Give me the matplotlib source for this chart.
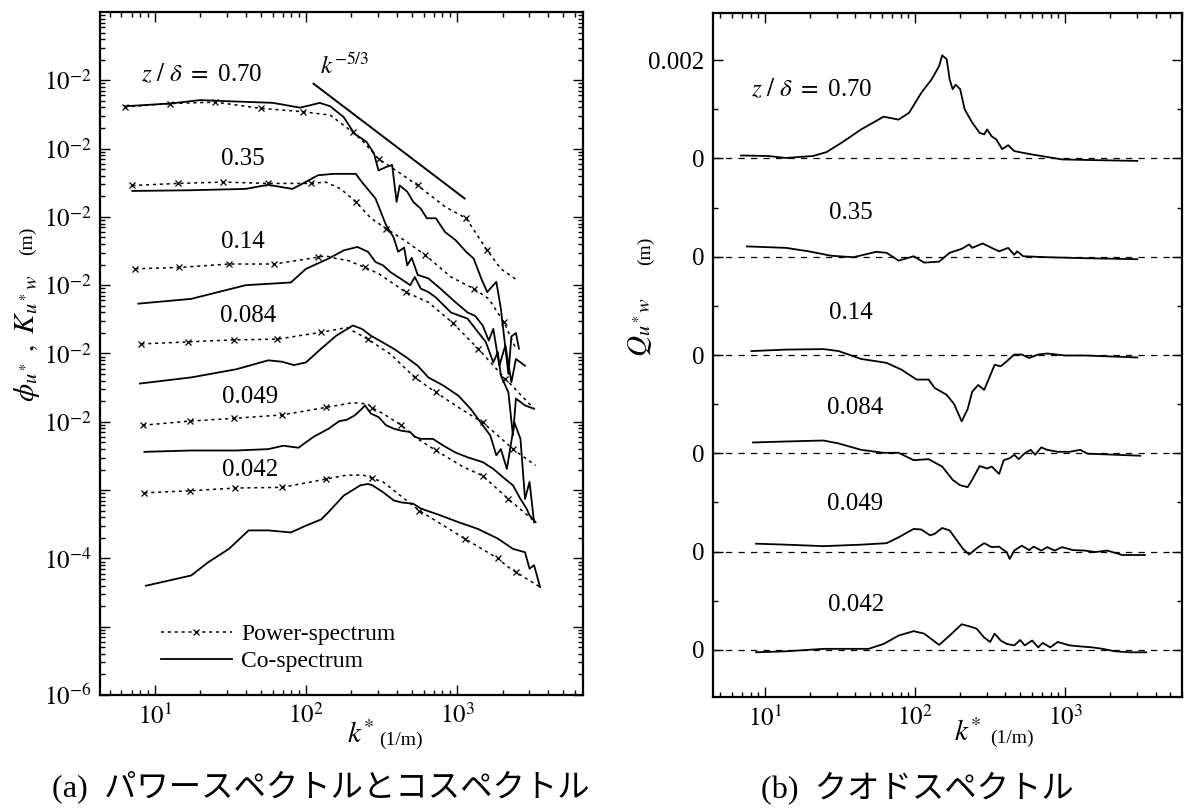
import numpy as np
import matplotlib
matplotlib.use("Agg")
import matplotlib.pyplot as plt
from matplotlib.lines import Line2D
from matplotlib.ticker import LogLocator, NullFormatter, MultipleLocator

plt.rcParams['font.family'] = ['Liberation Serif', 'Noto Sans CJK JP']
plt.rcParams['mathtext.fontset'] = 'stix'

heights = ['0.70', '0.35', '0.14', '0.084', '0.049', '0.042']

# ---- (a): log10 k* and log10 of the shifted spectrum ----
pw070_lk = [0.80, 1.10, 1.40, 1.70, 1.98, 2.16, 2.31, 2.38, 2.48, 2.61, 2.74, 2.92, 3.06, 3.20, 3.29, 3.40]
pw070_lv = [2.61, 2.66, 2.68, 2.59, 2.54, 2.49, 2.24, 2.10, 1.85, 1.66, 1.46, 1.15, 0.98, 0.51, 0.24, 0.07]
co070_lk = [0.80, 1.10, 1.30, 1.53, 1.78, 1.96, 2.02, 2.09, 2.16, 2.25, 2.32, 2.40, 2.45, 2.48, 2.53, 2.57,
            2.60, 2.62, 2.67, 2.71, 2.76, 2.80, 2.86, 2.92, 2.99, 3.06, 3.11, 3.16, 3.20, 3.24, 3.26, 3.29,
            3.34, 3.36, 3.39, 3.41]
co070_lv = [2.62, 2.66, 2.71, 2.69, 2.67, 2.60, 2.63, 2.67, 2.62, 2.46, 2.22, 2.10, 1.93, 1.68, 1.73, 1.76,
            1.22, 1.46, 1.37, 1.22, 1.12, 0.98, 0.98, 0.78, 0.66, 0.49, 0.39, 0.10, -0.10, 0.00, 0.05, -0.34,
            -1.30, -0.75, -0.70, -0.93]

pw035_lk = [0.85, 1.15, 1.45, 1.75, 2.03, 2.13, 2.23, 2.33, 2.43, 2.53, 2.65, 2.79, 2.96, 3.11, 3.21, 3.31, 3.39]
pw035_lv = [1.46, 1.49, 1.51, 1.49, 1.49, 1.51, 1.41, 1.22, 0.98, 0.83, 0.66, 0.44, 0.12, -0.05, -0.20, -0.54, -0.93]
co035_lk = [0.85, 1.23, 1.60, 1.75, 1.91, 1.98, 2.08, 2.18, 2.33, 2.37, 2.46, 2.53, 2.58, 2.61, 2.65, 2.67,
            2.70, 2.74, 2.81, 2.89, 2.99, 3.07, 3.12, 3.17, 3.21, 3.24, 3.28, 3.32, 3.36, 3.39, 3.42, 3.45]
co035_lv = [1.38, 1.39, 1.41, 1.47, 1.41, 1.49, 1.61, 1.63, 1.63, 1.51, 1.27, 0.88, 0.70, 0.49, 0.55, 0.29,
            0.40, 0.15, 0.10, -0.05, -0.25, -0.40, -0.45, -0.59, -0.81, -0.64, -1.18, -0.88, -1.42, -1.08, -1.13, -1.18]

pw014_lk = [0.87, 1.16, 1.49, 1.79, 2.08, 2.13, 2.20, 2.28, 2.39, 2.48, 2.66, 2.81, 2.97, 3.14, 3.32, 3.51]
pw014_lv = [0.24, 0.26, 0.31, 0.31, 0.41, 0.43, 0.39, 0.36, 0.26, 0.17, -0.10, -0.25, -0.55, -0.93, -1.37, -1.81]
co014_lk = [0.89, 1.24, 1.60, 1.75, 1.90, 2.00, 2.15, 2.25, 2.34, 2.41, 2.46, 2.51, 2.56, 2.63, 2.69, 2.72,
            2.76, 2.81, 2.86, 2.96, 3.07, 3.14, 3.19, 3.24, 3.27, 3.29, 3.34, 3.37, 3.39, 3.45, 3.51]
co014_lv = [-0.27, -0.20, 0.00, 0.02, 0.04, 0.24, 0.39, 0.51, 0.56, 0.49, 0.34, 0.29, 0.19, 0.09, 0.00, 0.12,
            -0.05, -0.10, -0.18, -0.40, -0.49, -0.69, -0.83, -1.13, -0.98, -1.32, -1.57, -2.20, -1.66, -1.76, -1.81]

pw0084_lk = [0.91, 1.22, 1.52, 1.81, 2.10, 2.27, 2.41, 2.56, 2.72, 2.86, 3.01, 3.17, 3.27, 3.37, 3.52]
pw0084_lv = [-0.86, -0.83, -0.80, -0.79, -0.69, -0.62, -0.79, -1.01, -1.35, -1.57, -1.79, -2.01, -2.20, -2.40, -2.64]
co0084_lk = [0.90, 1.24, 1.54, 1.75, 1.84, 1.92, 2.00, 2.10, 2.20, 2.31, 2.37, 2.43, 2.51, 2.58, 2.66, 2.74,
             2.81, 2.91, 3.01, 3.09, 3.17, 3.22, 3.26, 3.29, 3.33, 3.38, 3.42, 3.45, 3.48, 3.51]
co0084_lv = [-1.44, -1.35, -1.23, -1.10, -1.12, -1.17, -1.13, -0.93, -0.74, -0.59, -0.64, -0.74, -0.84, -0.93,
             -1.05, -1.18, -1.35, -1.47, -1.62, -1.81, -2.05, -2.20, -2.49, -2.40, -2.69, -2.01, -2.25, -3.13,
             -2.88, -3.47]

pw0049_lk = [0.92, 1.23, 1.52, 1.84, 2.13, 2.31, 2.41, 2.44, 2.51, 2.63, 2.74, 2.86, 3.04, 3.17, 3.34, 3.52]
pw0049_lv = [-2.05, -1.99, -1.95, -1.90, -1.79, -1.72, -1.74, -1.80, -1.88, -2.05, -2.25, -2.42, -2.66, -2.79, -3.13, -3.47]
co0049_lk = [0.93, 1.24, 1.54, 1.75, 1.85, 1.95, 2.05, 2.15, 2.22, 2.27, 2.32, 2.37, 2.39, 2.43, 2.48, 2.53,
             2.58, 2.63, 2.69, 2.72, 2.76, 2.84, 2.91, 2.99, 3.07, 3.17, 3.24, 3.32, 3.37, 3.42, 3.46, 3.48, 3.52]
co0049_lv = [-2.44, -2.42, -2.42, -2.40, -2.35, -2.38, -2.22, -2.10, -1.99, -1.97, -1.91, -1.81, -1.76, -1.88,
             -1.93, -2.05, -2.10, -2.13, -2.15, -2.22, -2.25, -2.25, -2.35, -2.45, -2.52, -2.59, -2.69, -2.84,
             -2.93, -3.13, -3.27, -3.37, -3.47]

pw0042_lk = [0.93, 1.23, 1.53, 1.84, 2.13, 2.27, 2.38, 2.44, 2.51, 2.75, 3.05, 3.27, 3.34, 3.39, 3.55]
pw0042_lv = [-3.04, -3.01, -2.97, -2.96, -2.84, -2.78, -2.78, -2.83, -2.88, -3.30, -3.71, -4.00, -4.13, -4.20, -4.42]
co0042_lk = [0.94, 1.24, 1.35, 1.49, 1.62, 1.75, 1.90, 2.00, 2.10, 2.15, 2.25, 2.36, 2.41, 2.44, 2.51, 2.58,
             2.63, 2.71, 2.76, 2.89, 3.01, 3.14, 3.27, 3.37, 3.45, 3.48, 3.51, 3.55]
co0042_lv = [-4.40, -4.25, -4.06, -3.86, -3.59, -3.59, -3.62, -3.52, -3.43, -3.32, -3.08, -2.93, -2.91, -2.93,
             -3.03, -3.15, -3.18, -3.20, -3.27, -3.37, -3.47, -3.57, -3.71, -3.86, -3.91, -4.15, -4.10, -4.42]

# k^-5/3 reference line end points
ref_lk = [2.05, 3.05]
ref_lv = [2.95, 1.27]

# ---- (b) quadrature spectra: log10 k* and Q (1e-3 m), each curve on its own zero line ----
zero_b = [0.0, -0.002, -0.004, -0.006, -0.008, -0.010]
q070_lk = [0.84, 1.02, 1.14, 1.32, 1.41, 1.51, 1.64, 1.79, 1.89, 1.96, 2.04, 2.11, 2.16, 2.18, 2.21, 2.23, 2.25,
           2.27, 2.30, 2.33, 2.38, 2.43, 2.46, 2.48, 2.51, 2.54, 2.58, 2.62, 2.66, 2.71, 2.78, 2.88, 2.98, 3.13, 3.48]
q070 = [0.06, 0.05, 0.01, 0.05, 0.13, 0.32, 0.59, 0.85, 0.79, 0.93, 1.33, 1.61, 1.88, 2.10, 2.02, 1.61, 1.41,
        1.50, 1.41, 1.00, 0.73, 0.52, 0.49, 0.59, 0.45, 0.39, 0.19, 0.27, 0.15, 0.12, 0.08, 0.03, -0.02, -0.03, -0.05]
q035_lk = [0.88, 1.14, 1.29, 1.44, 1.59, 1.74, 1.81, 1.89, 1.99, 2.06, 2.16, 2.23, 2.31, 2.36, 2.38, 2.45, 2.51,
           2.56, 2.62, 2.66, 2.68, 2.72, 2.88, 3.13, 3.48]
q035 = [0.21, 0.18, 0.11, 0.02, -0.01, 0.10, 0.08, -0.08, 0.01, -0.12, -0.10, 0.08, 0.16, 0.25, 0.18, 0.27, 0.18,
        0.11, 0.18, 0.04, 0.11, 0.01, -0.01, -0.03, -0.05]
q014_lk = [0.91, 1.14, 1.39, 1.49, 1.64, 1.81, 1.91, 2.01, 2.09, 2.13, 2.21, 2.26, 2.31, 2.35, 2.38, 2.42, 2.46,
           2.53, 2.57, 2.61, 2.66, 2.71, 2.76, 2.82, 2.88, 3.00, 3.13, 3.48]
q014 = [0.08, 0.11, 0.12, 0.08, -0.08, -0.16, -0.30, -0.50, -0.50, -0.67, -0.81, -1.00, -1.35, -1.10, -0.75, -0.61,
        -0.71, -0.20, -0.23, -0.13, 0.01, 0.01, -0.06, 0.01, 0.03, -0.01, -0.01, -0.05]
q0084_lk = [0.92, 1.14, 1.39, 1.49, 1.64, 1.79, 1.89, 1.99, 2.09, 2.18, 2.25, 2.30, 2.35, 2.38, 2.43, 2.48, 2.51,
            2.56, 2.59, 2.63, 2.66, 2.69, 2.73, 2.77, 2.80, 2.84, 2.88, 2.95, 3.03, 3.10, 3.15, 3.25, 3.50]
q0084 = [0.22, 0.24, 0.26, 0.20, 0.07, 0.01, 0.01, -0.14, -0.12, -0.27, -0.54, -0.65, -0.69, -0.54, -0.26, -0.31,
         -0.27, -0.42, -0.14, -0.10, -0.03, -0.12, 0.00, 0.07, -0.03, 0.12, 0.07, 0.03, 0.03, 0.07, -0.01, -0.02, -0.05]
q0049_lk = [0.94, 1.14, 1.39, 1.64, 1.81, 1.89, 1.99, 2.04, 2.10, 2.13, 2.18, 2.23, 2.28, 2.32, 2.36, 2.38, 2.42,
            2.46, 2.51, 2.56, 2.58, 2.61, 2.63, 2.66, 2.71, 2.76, 2.79, 2.84, 2.88, 2.93, 2.98, 3.05, 3.13, 3.20,
            3.28, 3.38, 3.53]
q0049 = [0.16, 0.14, 0.11, 0.14, 0.17, 0.29, 0.46, 0.45, 0.33, 0.36, 0.48, 0.43, 0.22, 0.05, -0.06, -0.01, 0.09,
         0.17, 0.09, 0.10, 0.05, -0.01, -0.15, 0.02, 0.12, 0.03, 0.10, 0.02, 0.09, 0.02, 0.09, 0.03, 0.02, -0.01,
         0.02, -0.07, -0.07]
q0042_lk = [0.94, 1.14, 1.39, 1.69, 1.79, 1.89, 1.99, 2.06, 2.16, 2.23, 2.31, 2.36, 2.41, 2.46, 2.50, 2.53, 2.57,
            2.61, 2.66, 2.70, 2.73, 2.78, 2.82, 2.85, 2.90, 2.95, 3.03, 3.10, 3.18, 3.25, 3.33, 3.43, 3.54]
q0042 = [-0.05, -0.03, 0.02, 0.02, 0.12, 0.29, 0.38, 0.33, 0.10, 0.29, 0.52, 0.48, 0.43, 0.25, 0.16, 0.33, 0.19,
         0.12, 0.09, 0.20, 0.09, 0.19, 0.05, 0.14, 0.05, 0.16, 0.09, 0.07, 0.05, 0.02, -0.03, -0.05, -0.05]

power_a = [(pw070_lk, pw070_lv), (pw035_lk, pw035_lv), (pw014_lk, pw014_lv),
           (pw0084_lk, pw0084_lv), (pw0049_lk, pw0049_lv), (pw0042_lk, pw0042_lv)]
co_a = [(co070_lk, co070_lv), (co035_lk, co035_lv), (co014_lk, co014_lv),
        (co0084_lk, co0084_lv), (co0049_lk, co0049_lv), (co0042_lk, co0042_lv)]
quad_b = [(q070_lk, q070), (q035_lk, q035), (q014_lk, q014),
          (q0084_lk, q0084), (q0049_lk, q0049), (q0042_lk, q0042)]

# label placement (layout only)
lab_a_lk = [1.31, 1.58, 1.58, 1.62, 1.63, 1.63]
lab_a_lv = [3.09, 1.85, 0.63, -0.45, -1.64, -2.71]
lab_b_lk = [1.31, 1.57, 1.57, 1.60, 1.60, 1.61]
lab_b_y = [0.00141, -0.00111, -0.00315, -0.00507, -0.00704, -0.00908]

W, H = 1184, 810
fig = plt.figure(figsize=(W / 100, H / 100), dpi=100)
axL = fig.add_axes([100 / W, 1 - 695 / H, 483 / W, 683 / H])
axR = fig.add_axes([713 / W, 1 - 697 / H, 469 / W, 684 / H])

dotted = (0, (2.0, 2.5))
for lk, lv in power_a:
    axL.plot(10 ** np.array(lk), 10 ** np.array(lv), ls=dotted, lw=1.1, color='k',
             marker='x', ms=4, mew=0.9, markevery=0.055)
for lk, lv in co_a:
    axL.plot(10 ** np.array(lk), 10 ** np.array(lv), color='k', lw=1.3)
axL.plot(10 ** np.array(ref_lk), 10 ** np.array(ref_lv), color='k', lw=1.4)

axL.set_xscale('log')
axL.set_yscale('log')
axL.set_xlim(10 ** 0.636, 10 ** 3.834)
axL.set_ylim(1e-6, 1e4)

for i, h in enumerate(heights):
    txt = r'$z\ /\ \delta\ =\ $' + h if i == 0 else h
    axL.text(10 ** lab_a_lk[i], 10 ** lab_a_lv[i], txt, fontsize=18, ha='center', va='center')
axL.text(10 ** 2.09, 10 ** 3.21, r'$k^{-5/3}$', fontsize=18, ha='left', va='center')

ydec = 10.0 ** np.arange(-6, 4)
ylab = [r'$10^{-6}$', '', r'$10^{-4}$', ''] + [r'$10^{-2}$'] * 6
axL.set_yticks(ydec, ylab)
axL.yaxis.set_minor_locator(LogLocator(base=10, subs=np.arange(2, 10), numticks=30))
axL.yaxis.set_minor_formatter(NullFormatter())
axL.set_xticks([10, 100, 1000], [r'$10^{1}$', r'$10^{2}$', r'$10^{3}$'])
axL.xaxis.set_minor_locator(LogLocator(base=10, subs=np.arange(2, 10), numticks=30))
axL.xaxis.set_minor_formatter(NullFormatter())

handles = [Line2D([], [], ls=dotted, lw=1.1, color='k', marker='x', ms=4, mew=0.9),
           Line2D([], [], color='k', lw=1.3)]
axL.legend(handles, ['Power-spectrum', 'Co-spectrum'], loc='upper left',
           bbox_to_anchor=(0.126, 0.104), frameon=False, fontsize=17, handlelength=3.0,
           handletextpad=0.4, labelspacing=0.22, borderpad=0, borderaxespad=0)

# ---- (b) ----
for off, (lk, q) in zip(zero_b, quad_b):
    axR.axhline(off, ls=(0, (5, 5)), lw=0.9, color='k')
    axR.plot(10 ** np.array(lk), off + np.array(q) * 1e-3, color='k', lw=1.3)

axR.set_xscale('log')
axR.set_xlim(4.5, 6000)
axR.set_ylim(-0.01096, 0.00296)
for i, h in enumerate(heights):
    txt = r'$z\ /\ \delta\ =\ $' + h if i == 0 else h
    axR.text(10 ** lab_b_lk[i], lab_b_y[i], txt, fontsize=18, ha='center', va='center')

axR.set_yticks([0.002] + zero_b, ['0.002'] + ['0'] * 6)
axR.yaxis.set_minor_locator(MultipleLocator(0.001))
axR.set_xticks([10, 100, 1000], [r'$10^{1}$', r'$10^{2}$', r'$10^{3}$'])
axR.xaxis.set_minor_locator(LogLocator(base=10, subs=np.arange(2, 10), numticks=30))
axR.xaxis.set_minor_formatter(NullFormatter())

for ax in (axL, axR):
    ax.tick_params(which='both', direction='in', top=True, right=True, labelsize=18, width=1.0)
    ax.tick_params(which='major', length=7, pad=6)
    ax.tick_params(which='minor', length=3.5)
    for sp in ax.spines.values():
        sp.set_linewidth(1.6)

# axis titles
fig.text(27 / W, 1 - 338 / H, r'$\phi_{u^*}\ ,\ K_{u^*w}$', rotation=90, fontsize=21, ha='center', va='center')
fig.text(27 / W, 1 - 241 / H, '(m)', rotation=90, fontsize=14, ha='center', va='center')
fig.text(640 / W, 1 - 327 / H, r'$Q_{u^*w}$', rotation=90, fontsize=21, ha='center', va='center')
fig.text(645 / W, 1 - 251 / H, '(m)', rotation=90, fontsize=14, ha='center', va='center')

fig.text(361 / W, 1 - 735 / H, r'$k^{*}$', fontsize=21, ha='center', va='center')
fig.text(401 / W, 1 - 740 / H, '(1/m)', fontsize=14, ha='center', va='center')
fig.text(968 / W, 1 - 733 / H, r'$k^{*}$', fontsize=21, ha='center', va='center')
fig.text(1012 / W, 1 - 738 / H, '(1/m)', fontsize=14, ha='center', va='center')

fig.text(321 / W, 1 - 787 / H, '(a)  パワースペクトルとコスペクトル', fontsize=23.3, ha='center', va='center')
fig.text(917 / W, 1 - 788 / H, '(b)  クオドスペクトル', fontsize=23.3, ha='center', va='center')

fig.savefig('out.png', dpi=100)
